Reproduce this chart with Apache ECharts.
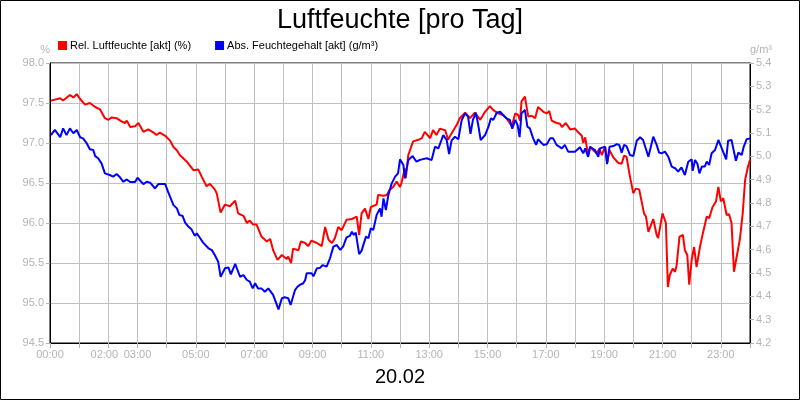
<!DOCTYPE html>
<html>
<head>
<meta charset="utf-8">
<script src="https://cdn.jsdelivr.net/npm/echarts@6/dist/echarts.min.js"></script>
<style>
html,body{margin:0;padding:0;background:#fff;}
#c{width:800px;height:400px;}
</style>
</head>
<body>
<div id="c"></div>
<script>
// Minutes since 00:00 and values
var relTime = [2,21,27,41,48,55,62,72,82,93,103,106,113,120,127,137,147,154,158,165,175,182,192,202,213,219,226,237,247,254,261,267,281,295,305,312,322,329,339,343,351,360,370,381,387,398,405,411,418,425,435,446,453,459,468,477,487,490,496,500,511,516,525,531,538,549,559,566,573,580,586,593,600,610,621,631,636,641,648,655,660,672,675,686,693,698,706,713,716,720,723,730,732,737,747,758,765,771,782,788,795,802,813,819,826,837,843,854,864,867,874,885,895,905,912,922,932,939,950,957,963,967,970,977,981,984,991,998,1004,1015,1022,1027,1032,1042,1049,1053,1061,1070,1080,1087,1094,1097,1101,1104,1107,1111,1118,1125,1130,1135,1142,1146,1151,1159,1169,1176,1181,1186,1193,1200,1205,1212,1222,1226,1231,1241,1248,1251,1260,1267,1271,1275,1281,1286,1289,1295,1302,1306,1311,1315,1320,1325,1330,1337,1343,1351,1356,1363,1370,1375,1380,1385,1392,1397,1402,1407,1411,1419,1425,1430,1436,1440];
var relValues = [97.53,97.56,97.53,97.60,97.57,97.61,97.55,97.48,97.50,97.45,97.42,97.41,97.31,97.29,97.32,97.31,97.27,97.25,97.28,97.20,97.21,97.25,97.14,97.17,97.13,97.10,97.13,97.09,97.03,96.95,96.91,96.85,96.77,96.66,96.67,96.58,96.46,96.49,96.42,96.37,96.13,96.23,96.21,96.28,96.12,96.09,96.00,96.03,95.98,95.98,95.83,95.77,95.80,95.66,95.54,95.60,95.55,95.58,95.50,95.68,95.66,95.77,95.75,95.71,95.78,95.75,95.71,95.95,95.79,95.75,95.81,95.95,95.91,96.04,96.05,96.08,95.85,96.12,96.18,96.05,96.20,96.23,96.35,96.34,96.35,96.41,96.45,96.52,96.50,96.45,96.50,96.68,96.56,96.85,97.02,97.04,97.06,97.14,97.06,97.16,97.10,97.18,97.16,97.04,97.12,97.23,97.31,97.38,97.31,97.29,97.38,97.29,97.39,97.46,97.41,97.37,97.35,97.31,97.21,97.37,97.35,97.28,97.52,97.58,97.43,97.33,97.34,97.31,97.45,97.39,97.37,97.40,97.28,97.25,97.24,97.20,97.25,97.17,97.18,97.13,97.09,97.00,97.07,97.06,96.84,96.95,96.91,96.87,96.93,96.85,96.95,96.75,96.91,96.82,96.75,96.74,96.84,96.83,96.58,96.37,96.43,96.42,96.12,96.08,95.89,96.05,95.85,95.81,96.12,96.00,95.20,95.35,95.43,95.39,95.47,95.83,95.85,95.66,95.60,95.23,95.54,95.70,95.45,95.70,95.87,96.08,96.06,96.20,96.27,96.45,96.27,96.31,96.10,96.11,96.00,95.39,95.40,95.79,96.12,96.54,96.71,96.79];

var absTime = [2,10,21,27,34,41,48,55,62,68,75,82,89,93,99,106,113,123,130,137,144,151,158,165,175,180,192,199,206,216,223,237,243,247,254,261,266,273,278,285,291,298,302,309,315,326,333,339,346,351,360,367,372,381,391,398,405,411,417,422,428,435,442,449,459,470,477,483,490,495,504,509,514,521,525,528,538,542,549,555,561,569,576,583,590,597,603,610,617,621,625,629,636,641,650,655,660,665,672,679,682,686,691,696,703,710,716,720,727,730,737,746,754,760,765,775,785,792,799,809,816,821,826,833,840,847,854,860,865,870,876,881,886,895,902,907,912,919,926,932,939,946,951,957,962,966,970,977,982,987,994,1000,1004,1015,1022,1029,1035,1042,1053,1059,1066,1080,1090,1097,1101,1107,1111,1121,1128,1131,1142,1146,1151,1159,1166,1171,1176,1181,1186,1193,1200,1207,1214,1220,1231,1241,1248,1253,1258,1265,1272,1279,1286,1292,1299,1306,1313,1320,1322,1327,1332,1336,1341,1347,1351,1356,1361,1368,1375,1382,1385,1391,1395,1402,1407,1411,1416,1423,1427,1433,1436,1440];
var absValues = [5.091,5.113,5.082,5.120,5.091,5.120,5.099,5.113,5.082,5.077,5.058,5.030,5.027,5.001,4.992,4.970,4.927,4.920,4.913,4.924,4.910,4.891,4.901,4.890,4.890,4.908,4.881,4.891,4.887,4.863,4.881,4.881,4.848,4.842,4.791,4.777,4.749,4.744,4.716,4.698,4.687,4.659,4.670,4.649,4.630,4.606,4.598,4.577,4.548,4.484,4.520,4.524,4.494,4.539,4.484,4.491,4.470,4.463,4.434,4.456,4.434,4.434,4.420,4.434,4.406,4.344,4.392,4.396,4.392,4.363,4.427,4.441,4.449,4.456,4.470,4.499,4.499,4.486,4.520,4.521,4.534,4.527,4.563,4.613,4.620,4.599,4.613,4.653,4.659,4.677,4.663,4.673,4.581,4.596,4.656,4.649,4.692,4.684,4.749,4.777,4.741,4.820,4.770,4.834,4.884,4.913,4.927,4.987,4.963,4.906,4.984,5.001,4.977,4.984,4.987,4.992,4.984,5.041,5.034,5.091,5.070,5.010,5.067,5.084,5.073,5.156,5.184,5.170,5.096,5.156,5.187,5.134,5.070,5.091,5.127,5.163,5.156,5.187,5.191,5.177,5.163,5.156,5.118,5.156,5.134,5.082,5.184,5.199,5.127,5.120,5.077,5.049,5.073,5.049,5.052,5.077,5.077,5.049,5.034,5.049,5.020,5.020,5.039,5.013,5.034,4.998,5.041,5.027,4.998,5.034,5.041,4.967,5.041,5.044,5.052,5.049,5.016,5.049,5.044,5.006,5.001,5.067,5.082,5.070,4.998,5.084,5.049,5.016,5.013,5.020,4.998,4.956,4.949,4.934,4.953,4.920,4.977,4.987,4.938,4.984,4.967,4.927,4.956,4.956,4.977,4.963,5.013,5.027,5.070,5.034,5.039,4.987,5.067,5.070,5.020,4.981,5.016,5.006,5.041,5.073,5.067,5.077];

var xTickLabels = ['00:00','02:00','03:00','05:00','07:00','09:00','11:00','13:00','15:00','17:00','19:00','21:00','23:00'];
var seriesNames = ['Rel. Luftfeuchte [akt] (%)', 'Abs. Feuchtegehalt [akt] (g/m³)'];
var titleText = 'Luftfeuchte [pro Tag]';
var dateText = '20.02';

function pairs(t, v){ var out=[]; for(var i=0;i<t.length;i++) out.push([t[i], v[i]]); return out; }
function fmtTime(m){ var h=Math.floor(m/60), mm=m%60; return (h<10?'0':'')+h+':'+(mm<10?'0':'')+mm; }

var gray = '#b4b4b4';
var font = 'Liberation Sans, Arial, sans-serif';
var chart = echarts.init(document.getElementById('c'), null, {renderer:'canvas'});
chart.setOption({
  animation:false,
  backgroundColor:'#fff',
  textStyle:{fontFamily:font},
  title:{text:titleText, left:'center', top:2, textStyle:{fontSize:27, fontWeight:'normal', color:'#000', fontFamily:font}},
  legend:{
    left:53, top:35, icon:'rect', itemWidth:9, itemHeight:9, itemGap:24,
    textStyle:{fontSize:11, color:'#000', fontFamily:font, padding:[0,0,0,-2]},
    data:seriesNames
  },
  grid:{left:50, right:50, top:63, bottom:57, show:true, borderColor:'#000', borderWidth:1},
  xAxis:{
    type:'value', min:0, max:1440, interval:60,
    axisLine:{show:true, lineStyle:{color:'#000'}},
    axisTick:{show:true, length:5, lineStyle:{color:gray}},
    splitLine:{show:true, lineStyle:{color:'#c0c0c0', width:1}},
    axisLabel:{
      color:gray, fontSize:11, margin:6, fontFamily:font,
      formatter:function(v){ var s=fmtTime(v); if(xTickLabels.indexOf(s)<0) return ''; if(s==='02:00') return '{l|'+s+'}'; return s; },
      rich:{l:{color:gray, fontSize:11, fontFamily:font, padding:[0,8,0,0]}}
    }
  },
  yAxis:[{
    type:'value', min:94.5, max:98, interval:0.5, position:'left',
    name:'%', nameLocation:'end', nameGap:8,
    nameTextStyle:{color:gray, fontSize:11, align:'right', padding:[0,0,0,0], fontFamily:font},
    axisLine:{show:true, lineStyle:{color:'#000'}},
    axisTick:{show:true, length:4, lineStyle:{color:gray}},
    splitLine:{show:true, lineStyle:{color:'#c0c0c0', width:1}},
    axisLabel:{color:gray, fontSize:11, margin:6, fontFamily:font, formatter:function(v){return v.toFixed(1);}}
  },{
    type:'value', min:4.2, max:5.4, interval:0.1, position:'right',
    name:'g/m³', nameLocation:'end', nameGap:8,
    nameTextStyle:{color:gray, fontSize:11, align:'left', fontFamily:font},
    axisLine:{show:true, lineStyle:{color:'#000'}},
    axisTick:{show:true, length:4, lineStyle:{color:gray}},
    splitLine:{show:false},
    axisLabel:{color:gray, fontSize:11, margin:6, fontFamily:font, formatter:function(v){return v.toFixed(1);}}
  }],
  graphic:[
    {type:'rect', shape:{x:0.5, y:0.5, width:799, height:399}, style:{fill:'none', stroke:'#000', lineWidth:1}, silent:true, z:100},
    {type:'text', left:'center', top:367, style:{text:dateText, fontSize:20, fill:'#000', fontFamily:font}}
  ],
  series:[{
    name:seriesNames[0], type:'line', yAxisIndex:0, showSymbol:false, symbol:'none',
    lineStyle:{color:'#ff0000', width:2}, itemStyle:{color:'#ff0000'},
    data:pairs(relTime, relValues)
  },{
    name:seriesNames[1], type:'line', yAxisIndex:1, showSymbol:false, symbol:'none',
    lineStyle:{color:'#0000ff', width:2}, itemStyle:{color:'#0000ff'},
    data:pairs(absTime, absValues)
  }]
});
</script>
</body>
</html>
